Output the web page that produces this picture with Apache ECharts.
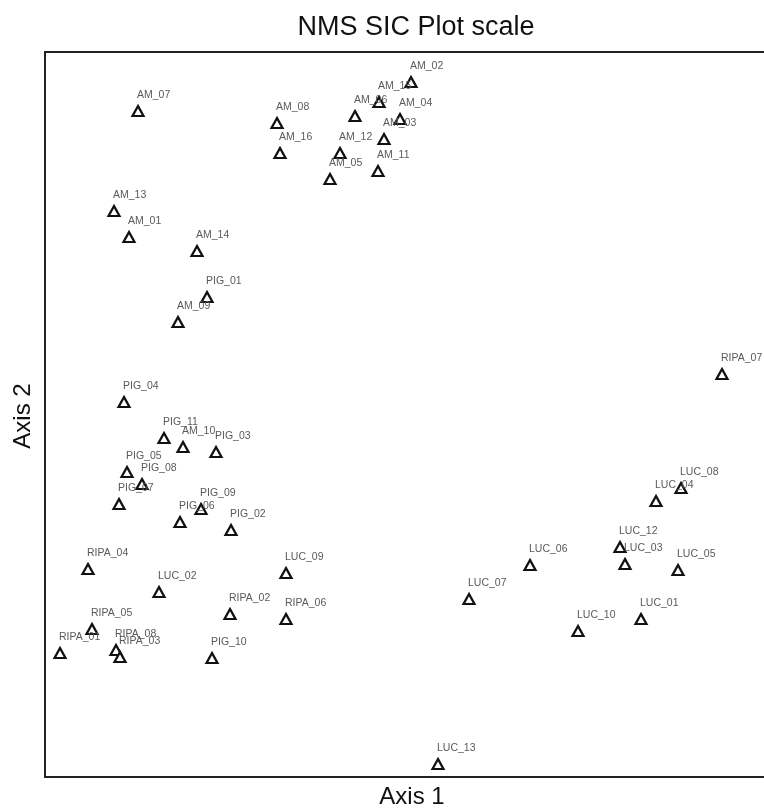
<!DOCTYPE html>
<html>
<head>
<meta charset="utf-8">
<script src="https://cdn.jsdelivr.net/npm/echarts@6/dist/echarts.min.js"></script>
<style>html,body{margin:0;padding:0;background:#fff;}#c{width:764px;height:810px;}</style>
</head>
<body>
<div id="c"></div>
<script>
var sampleNames = ['AM_07','AM_08','AM_16','AM_13','AM_01','AM_14','AM_09','AM_12','AM_05','AM_11','AM_02','AM_15','AM_06','AM_04','AM_03','AM_10',
  'PIG_01','PIG_04','PIG_11','PIG_03','PIG_05','PIG_08','PIG_07','PIG_09','PIG_06','PIG_02','PIG_10',
  'RIPA_04','RIPA_02','RIPA_06','RIPA_05','RIPA_01','RIPA_08','RIPA_03','RIPA_07',
  'LUC_09','LUC_02','LUC_08','LUC_04','LUC_12','LUC_03','LUC_06','LUC_05','LUC_07','LUC_10','LUC_01','LUC_13'];
var axis1 = [93,232,235,69,84,152,133,295,285,333,366,334,310,355,339,138,
  162,79,119,171,82,97,74,156,135,186,167,
  43,185,241,47,15,71,75,677,
  241,114,636,611,575,580,485,633,424,533,596,393];
var axis2 = [666,654,624,566,540,526,455,624,598,606,695,675,661,658,638,330,
  480,375,339,325,305,293,273,268,255,247,119,
  208,163,158,148,124,127,120,403,
  204,185,289,276,230,213,212,207,178,146,158,13];
var titleText = 'NMS SIC Plot scale';
var axis1Name = 'Axis 1';
var axis2Name = 'Axis 2';

var points = sampleNames.map(function(n, i){ return {name: n, value: [axis1[i], axis2[i]]}; });

var chart = echarts.init(document.getElementById('c'), null, {renderer: 'canvas'});
chart.setOption({
  animation: false,
  backgroundColor: '#fff',
  grid: {left: 45, top: 52, width: 725, height: 725, outerBoundsMode: 'none', containLabel: false,
         show: true, borderColor: '#222', borderWidth: 2, backgroundColor: 'transparent'},
  xAxis: {type: 'value', min: 0, max: 725, show: false},
  yAxis: {type: 'value', min: 0, max: 725, show: false},
  graphic: [
    {type: 'text', x: 416, y: 28, style: {text: titleText, font: '27px "Liberation Sans", Arial, sans-serif', fill: '#111', align: 'center', verticalAlign: 'middle'}},
    {type: 'text', x: 412, y: 797, style: {text: axis1Name, font: '24px "Liberation Sans", Arial, sans-serif', fill: '#111', align: 'center', verticalAlign: 'middle'}},
    {type: 'text', x: 23, y: 416, rotation: Math.PI / 2, style: {text: axis2Name, font: '24px "Liberation Sans", Arial, sans-serif', fill: '#111', align: 'center', verticalAlign: 'middle'}}
  ],
  series: [{
    type: 'scatter',
    data: points,
    symbol: 'triangle',
    symbolSize: [11, 10],
    itemStyle: {color: '#fff', borderColor: '#111', borderWidth: 2.2, opacity: 1},
    label: {
      show: true,
      position: 'top',
      align: 'left',
      distance: 4,
      offset: [-1, 0],
      formatter: function(p){ return p.name; },
      color: '#5a5a5a',
      fontSize: 10.5,
      fontFamily: '"Liberation Sans", Arial, sans-serif'
    },
    emphasis: {disabled: true}
  }]
});
</script>
</body>
</html>
